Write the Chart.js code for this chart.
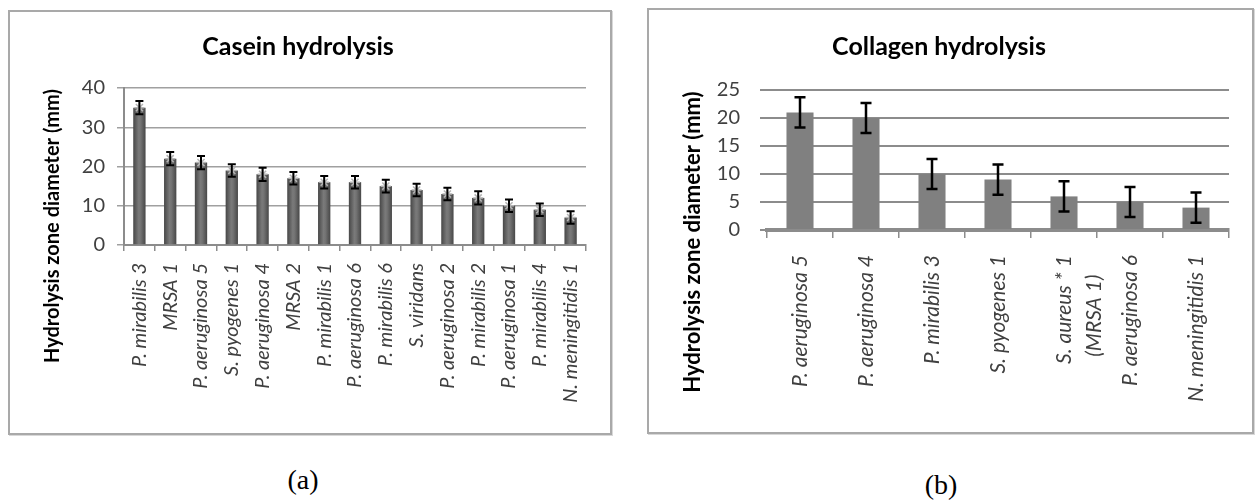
<!DOCTYPE html>
<html>
<head>
<meta charset="utf-8">
<script src="https://cdn.jsdelivr.net/npm/chart.js@4.4.1/dist/chart.umd.min.js"></script>
<style>
  html, body { margin: 0; padding: 0; background: #ffffff; }
  body { width: 1256px; height: 500px; position: relative; overflow: hidden; }
  .panel {
    position: absolute;
    border: 2px solid #a9a9a9;
    box-shadow: 1px 1px 0 #d8d8d8;
    background: #ffffff;
  }
  .panel canvas { display: block; }
  .caption {
    position: absolute;
    font-family: "Liberation Serif", "DejaVu Serif", serif;
    font-size: 28px;
    color: #000;
    transform: translate(-50%, -50%);
  }
</style>
</head>
<body>
  <div class="panel" id="panelA" style="left:8px; top:10px; width:600px; height:421px;">
    <canvas id="casein" width="600" height="421"></canvas>
  </div>
  <div class="panel" id="panelB" style="left:647px; top:8px; width:603px; height:422px;">
    <canvas id="collagen" width="603" height="422"></canvas>
  </div>
  <div class="caption" style="left:303px; top:480px;">(a)</div>
  <div class="caption" style="left:941px; top:485px;">(b)</div>

<script>
// Casein hydrolysis: zone diameters (mm) with their error half-widths
const caseinStrains = [
  'P. mirabilis 3', 'MRSA 1', 'P. aeruginosa 5', 'S. pyogenes 1', 'P. aeruginosa 4',
  'MRSA 2', 'P. mirabilis 1', 'P. aeruginosa 6', 'P. mirabilis 6', 'S. viridans',
  'P. aeruginosa 2', 'P. mirabilis 2', 'P. aeruginosa 1', 'P. mirabilis 4', 'N. meningitidis 1'
];
const caseinValues = [35, 22, 21, 19, 18, 17, 16, 16, 15, 14, 13, 12, 10, 9, 7];
const caseinErrors = [1.7, 1.7, 1.7, 1.6, 1.7, 1.6, 1.6, 1.6, 1.6, 1.6, 1.6, 1.7, 1.6, 1.6, 1.6];
const caseinTickStep = 10;
const caseinMax = 40;

// Collagen hydrolysis (second line of the two-line label is padded so it sits centred)
const collagenStrains = [
  'P. aeruginosa 5', 'P. aeruginosa 4', 'P. mirabilis 3', 'S. pyogenes 1',
  ['S. aureus * 1', '(MRSA 1)    '], 'P. aeruginosa 6', 'N. meningitidis 1'
];
const collagenValues = [21, 20, 10, 9, 6, 5, 4];
const collagenErrors = [2.7, 2.7, 2.7, 2.7, 2.7, 2.7, 2.7];
const collagenTickStep = 5;
const collagenMax = 25;

const yTitle = 'Hydrolysis zone diameter (mm)';
const FONT = 'Lato, "Open Sans", "Liberation Sans", sans-serif';

// Draws symmetric error bars over each bar of the first dataset
const errorBarPlugin = {
  id: 'errorBars',
  afterDatasetsDraw(chart, args, opts) {
    const meta = chart.getDatasetMeta(0);
    const yScale = chart.scales.y;
    const ctx = chart.ctx;
    ctx.save();
    ctx.strokeStyle = opts.color || '#000';
    ctx.lineWidth = opts.lineWidth || 2;
    meta.data.forEach((bar, i) => {
      const v = opts.values[i];
      const e = opts.errors[i];
      const yTop = yScale.getPixelForValue(v + e);
      const yBot = yScale.getPixelForValue(v - e);
      const x = bar.x;
      const c = opts.capHalf || 4;
      ctx.beginPath();
      ctx.moveTo(x, yTop); ctx.lineTo(x, yBot);
      ctx.moveTo(x - c, yTop); ctx.lineTo(x + c, yTop);
      ctx.moveTo(x - c, yBot); ctx.lineTo(x + c, yBot);
      ctx.stroke();
    });
    ctx.restore();
  }
};

// Vertical axis title, placed independently of the plot height
const sideTitlePlugin = {
  id: 'sideTitle',
  afterDraw(chart, args, opts) {
    const ctx = chart.ctx;
    ctx.save();
    ctx.translate(opts.x, opts.y);
    ctx.rotate(-Math.PI / 2);
    ctx.font = opts.font;
    ctx.fillStyle = '#000';
    ctx.textAlign = 'center';
    ctx.textBaseline = 'middle';
    ctx.fillText(opts.text, 0, 0);
    ctx.restore();
  }
};

// Shaded fill for the casein bars: darker edges, lighter middle
function shadedBar(context) {
  const chart = context.chart;
  const area = chart.chartArea;
  if (!area) return '#6b6b6b';
  const n = chart.data.labels.length;
  const w = area.width / n * 0.4;
  const x = chart.scales.x.getPixelForValue(context.dataIndex);
  const g = chart.ctx.createLinearGradient(x - w / 2, 0, x + w / 2, 0);
  g.addColorStop(0, '#474747');
  g.addColorStop(0.45, '#7a7a7a');
  g.addColorStop(0.6, '#737373');
  g.addColorStop(1, '#474747');
  return g;
}

new Chart(document.getElementById('casein'), {
  type: 'bar',
  data: {
    labels: caseinStrains,
    datasets: [{
      data: caseinValues,
      backgroundColor: shadedBar,
      borderWidth: 0,
      categoryPercentage: 1,
      barPercentage: 0.4,
      order: 2
    }, {
      // light cap marker sitting on top of each bar
      type: 'line',
      data: caseinValues,
      showLine: false,
      pointStyle: 'star',
      pointRadius: 5,
      pointBorderWidth: 1.5,
      pointBorderColor: '#b4b4b4',
      pointBackgroundColor: '#b4b4b4',
      order: 1
    }]
  },
  plugins: [errorBarPlugin, sideTitlePlugin],
  options: {
    responsive: false,
    animation: false,
    devicePixelRatio: 1,
    layout: { padding: { left: 0, right: 24, top: 0, bottom: 0 } },
    plugins: {
      legend: { display: false },
      tooltip: { enabled: false },
      title: {
        display: true,
        text: 'Casein hydrolysis',
        color: '#000',
        font: { family: FONT, size: 25, weight: 'bold', lineHeight: 1.2 },
        padding: { top: 20, bottom: 26 }
      },
      errorBars: { values: caseinValues, errors: caseinErrors, capHalf: 4, lineWidth: 2, color: '#000' },
      sideTitle: { text: yTitle, x: 43, y: 214, font: 'bold 20px ' + FONT }
    },
    scales: {
      x: {
        afterFit(scale) { scale.height = 188; },
        grid: { drawOnChartArea: false, drawTicks: true, tickLength: 6, color: '#8c8c8c', lineWidth: 1.5, offset: true },
        border: { display: true, color: '#8c8c8c', width: 2 },
        ticks: {
          autoSkip: false, maxRotation: 90, minRotation: 90, padding: 12,
          color: '#404040',
          font: { family: FONT, size: 20, style: 'italic' }
        }
      },
      y: {
        min: 0, max: caseinMax,
        afterFit(scale) { scale.width = 114; },
        grid: { color: '#a0a0a0', lineWidth: 1.5, tickLength: 7 },
        border: { display: true, color: '#8c8c8c', width: 2 },
        ticks: {
          stepSize: caseinTickStep, padding: 12, color: '#404040',
          font: { family: FONT, size: 20 }
        }
      }
    }
  }
});

new Chart(document.getElementById('collagen'), {
  type: 'bar',
  data: {
    labels: collagenStrains,
    datasets: [{
      data: collagenValues,
      backgroundColor: '#808080',
      borderWidth: 0,
      categoryPercentage: 1,
      barPercentage: 0.41
    }]
  },
  plugins: [errorBarPlugin, sideTitlePlugin],
  options: {
    responsive: false,
    animation: false,
    devicePixelRatio: 1,
    layout: { padding: { left: 0, right: 23, top: 0, bottom: 0 } },
    plugins: {
      legend: { display: false },
      tooltip: { enabled: false },
      title: {
        display: true,
        text: 'Collagen hydrolysis',
        color: '#000',
        font: { family: FONT, size: 25, weight: 'bold', lineHeight: 1.2 },
        padding: { top: 22, bottom: 28 }
      },
      errorBars: { values: collagenValues, errors: collagenErrors, capHalf: 5.5, lineWidth: 2.5, color: '#000' },
      sideTitle: { text: yTitle, x: 44, y: 232, font: 'bold 22px ' + FONT }
    },
    scales: {
      x: {
        afterFit(scale) { scale.height = 202; },
        grid: { drawOnChartArea: false, drawTicks: true, tickLength: 8, color: '#8c8c8c', lineWidth: 1.5, offset: true },
        border: { display: true, color: '#8c8c8c', width: 4 },
        ticks: {
          autoSkip: false, maxRotation: 90, minRotation: 90, padding: 17,
          color: '#404040',
          font: { family: FONT, size: 21, style: 'italic', lineHeight: 1.45 }
        }
      },
      y: {
        min: 0, max: collagenMax,
        afterFit(scale) { scale.width = 118; },
        grid: { color: '#8c8c8c', lineWidth: 2, tickLength: 7 },
        border: { display: false },
        ticks: {
          stepSize: collagenTickStep, padding: 20, color: '#404040',
          font: { family: FONT, size: 20 }
        }
      }
    }
  }
});
</script>
</body>
</html>
